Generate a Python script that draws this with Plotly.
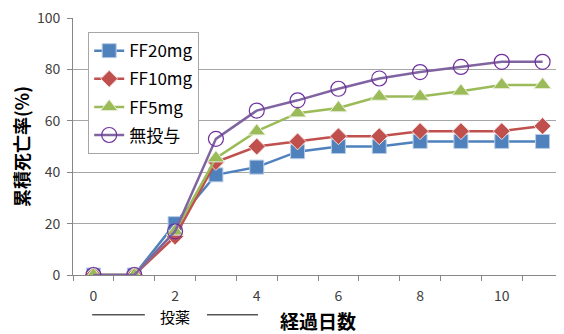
import plotly.graph_objects as go

days = list(range(12))
tick_days = [0, 2, 4, 6, 8, 10]
ff20 = [0, 0, 20, 39, 42, 48, 50, 50, 52, 52, 52, 52]
ff10 = [0, 0, 15, 44, 50, 52, 54, 54, 56, 56, 56, 58]
ff5 = [0, 0, 17, 45.5, 56, 63, 65, 69.5, 69.5, 71.5, 74, 74]
none = [0, 0, 17, 53, 64, 68, 72.5, 76.5, 79, 81, 83, 83]
names = ["FF20mg", "FF10mg", "FF5mg", "無投与"]
y_ticks = [0, 20, 40, 60, 80, 100]

FONT = "Noto Sans CJK JP"

fig = go.Figure()
styles = [
    (ff20, "#4F81BD", dict(symbol="square", size=14, color="#4F81BD", line=dict(color="#B9CDE5", width=1))),
    (ff10, "#C0504D", dict(symbol="diamond", size=13, color="#C0504D", line=dict(color="#F2DCDB", width=1))),
    (ff5, "#9BBB59", dict(symbol="triangle-up", size=15, color="#9BBB59", line=dict(color="#EBF1DE", width=1))),
    (none, "#8064A2", dict(symbol="circle-open", size=15, color="#7030A0", line=dict(color="#7030A0", width=1.2))),
]
for i, (vals, col, mk) in enumerate(styles):
    fig.add_trace(go.Scatter(
        x=days, y=vals, name=names[i], mode="lines+markers",
        line=dict(color=col, width=2.5), marker=mk, legendgroup=f"g{i}",
    ))

fig.update_layout(
    width=556, height=326,
    margin=dict(l=65, r=1, t=10, b=59, autoexpand=False),
    plot_bgcolor="white", paper_bgcolor="white",
    font=dict(family=FONT, color="#404040", size=13),
    showlegend=True,
    legend=dict(
        x=0.031, y=0.945, xanchor="left", yanchor="top",
        bgcolor="white", bordercolor="#A6A6A6", borderwidth=1,
        font=dict(size=17, color="#000000", family=FONT),
        tracegroupgap=3, itemwidth=30,
    ),
    xaxis=dict(
        range=[-0.5, 11.5], tickvals=tick_days, ticktext=[str(d) for d in tick_days],
        ticks="", showgrid=False, showline=True, linecolor="#878787", linewidth=1,
        zeroline=False, tickfont=dict(size=14, color="#404040"), automargin=False,
        ticklabelstandoff=8,
        minor=dict(tickvals=[d - 0.5 for d in range(13)], ticks="outside", ticklen=5,
                   tickcolor="#878787", showgrid=False),
        title=dict(text="<b>経過日数</b>", font=dict(size=19, color="#000000"), standoff=16),
    ),
    yaxis=dict(
        range=[0, 100.05], tickvals=y_ticks, ticks="outside", ticklen=5,
        tickcolor="#878787", showgrid=True, gridcolor="#A6A6A6", gridwidth=1,
        showline=True, linecolor="#878787", zeroline=False, automargin=False,
        tickfont=dict(size=14, color="#404040"), ticklabelstandoff=4,
        ticklabeloverflow="allow",
        title=dict(text="<b>累積死亡率(%)</b>", font=dict(size=18, color="#000000"), standoff=10),
    ),
)

fig.add_annotation(x=2, y=-0.16, xref="x", yref="paper", text="投薬", showarrow=False,
                   font=dict(size=15, color="#000000"), yanchor="middle")
fig.add_shape(type="line", xref="x", yref="paper", x0=-0.03, x1=1.26, y0=-0.155, y1=-0.155,
              line=dict(color="#000000", width=1))
fig.add_shape(type="line", xref="x", yref="paper", x0=2.78, x1=4.03, y0=-0.155, y1=-0.155,
              line=dict(color="#000000", width=1))

fig.write_html("out.html")
